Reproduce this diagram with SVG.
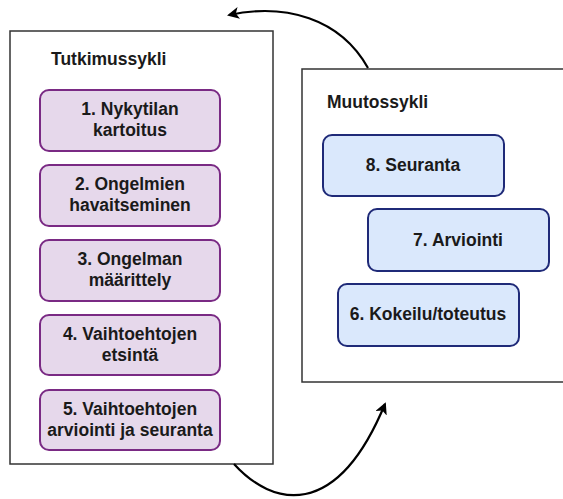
<svg xmlns="http://www.w3.org/2000/svg" width="563" height="499" viewBox="0 0 563 499">
  <style>
    .frame { fill: #ffffff; stroke: #333333; stroke-width: 1.5; }
    .purple { fill: #e6d8eb; stroke: #7a2a84; stroke-width: 2; }
    .blue { fill: #dae8fc; stroke: #1f2a78; stroke-width: 2; }
    text { font-family: "Liberation Sans", Arial, sans-serif; font-weight: bold; font-size: 17.5px; fill: #1a1a1a; }
    .mid { text-anchor: middle; }
    .link { fill: none; stroke: #000000; stroke-width: 2.2; }
  </style>
  <defs>
    <marker id="arrow" viewBox="0 0 12 12" refX="10" refY="6" markerWidth="12" markerHeight="12" markerUnits="userSpaceOnUse" orient="auto">
      <path d="M0,0 L12,6 L0,12 L3,6 Z" fill="#000000"/>
    </marker>
  </defs>

  <g id="tutkimussykli">
    <rect class="frame" x="10" y="31" width="263" height="433"/>
    <text x="51" y="65">Tutkimussykli</text>
  </g>

  <g id="muutossykli">
    <rect class="frame" x="302" y="69" width="270" height="313"/>
    <text x="327" y="108">Muutossykli</text>
  </g>

  <g id="node1">
    <rect class="purple" x="40" y="90" width="180" height="61" rx="9"/>
    <text class="mid" x="130" y="115">1. Nykytilan</text>
    <text class="mid" x="130" y="136">kartoitus</text>
  </g>
  <g id="node2">
    <rect class="purple" x="40" y="165" width="180" height="61" rx="9"/>
    <text class="mid" x="130" y="190">2. Ongelmien</text>
    <text class="mid" x="130" y="211">havaitseminen</text>
  </g>
  <g id="node3">
    <rect class="purple" x="40" y="240" width="180" height="61" rx="9"/>
    <text class="mid" x="130" y="265">3. Ongelman</text>
    <text class="mid" x="130" y="286">määrittely</text>
  </g>
  <g id="node4">
    <rect class="purple" x="40" y="315" width="180" height="60" rx="9"/>
    <text class="mid" x="130" y="340">4. Vaihtoehtojen</text>
    <text class="mid" x="130" y="361">etsintä</text>
  </g>
  <g id="node5">
    <rect class="purple" x="40" y="390" width="180" height="60" rx="9"/>
    <text class="mid" x="130" y="415">5. Vaihtoehtojen</text>
    <text class="mid" x="130" y="436">arviointi ja seuranta</text>
  </g>

  <g id="node8">
    <rect class="blue" x="323" y="135" width="181" height="61" rx="9"/>
    <text class="mid" x="413" y="171">8. Seuranta</text>
  </g>
  <g id="node7">
    <rect class="blue" x="368" y="209" width="181" height="62" rx="9"/>
    <text class="mid" x="458" y="246">7. Arviointi</text>
  </g>
  <g id="node6">
    <rect class="blue" x="338" y="284" width="181" height="62" rx="9"/>
    <text class="mid" x="428" y="320">6. Kokeilu/toteutus</text>
  </g>

  <g id="connectors">
    <path class="link" d="M368,68 C340,18 285,3 229,15" marker-end="url(#arrow)"/>
    <path class="link" d="M234,464 C272,506 336,522 385,404" marker-end="url(#arrow)"/>
  </g>
</svg>
